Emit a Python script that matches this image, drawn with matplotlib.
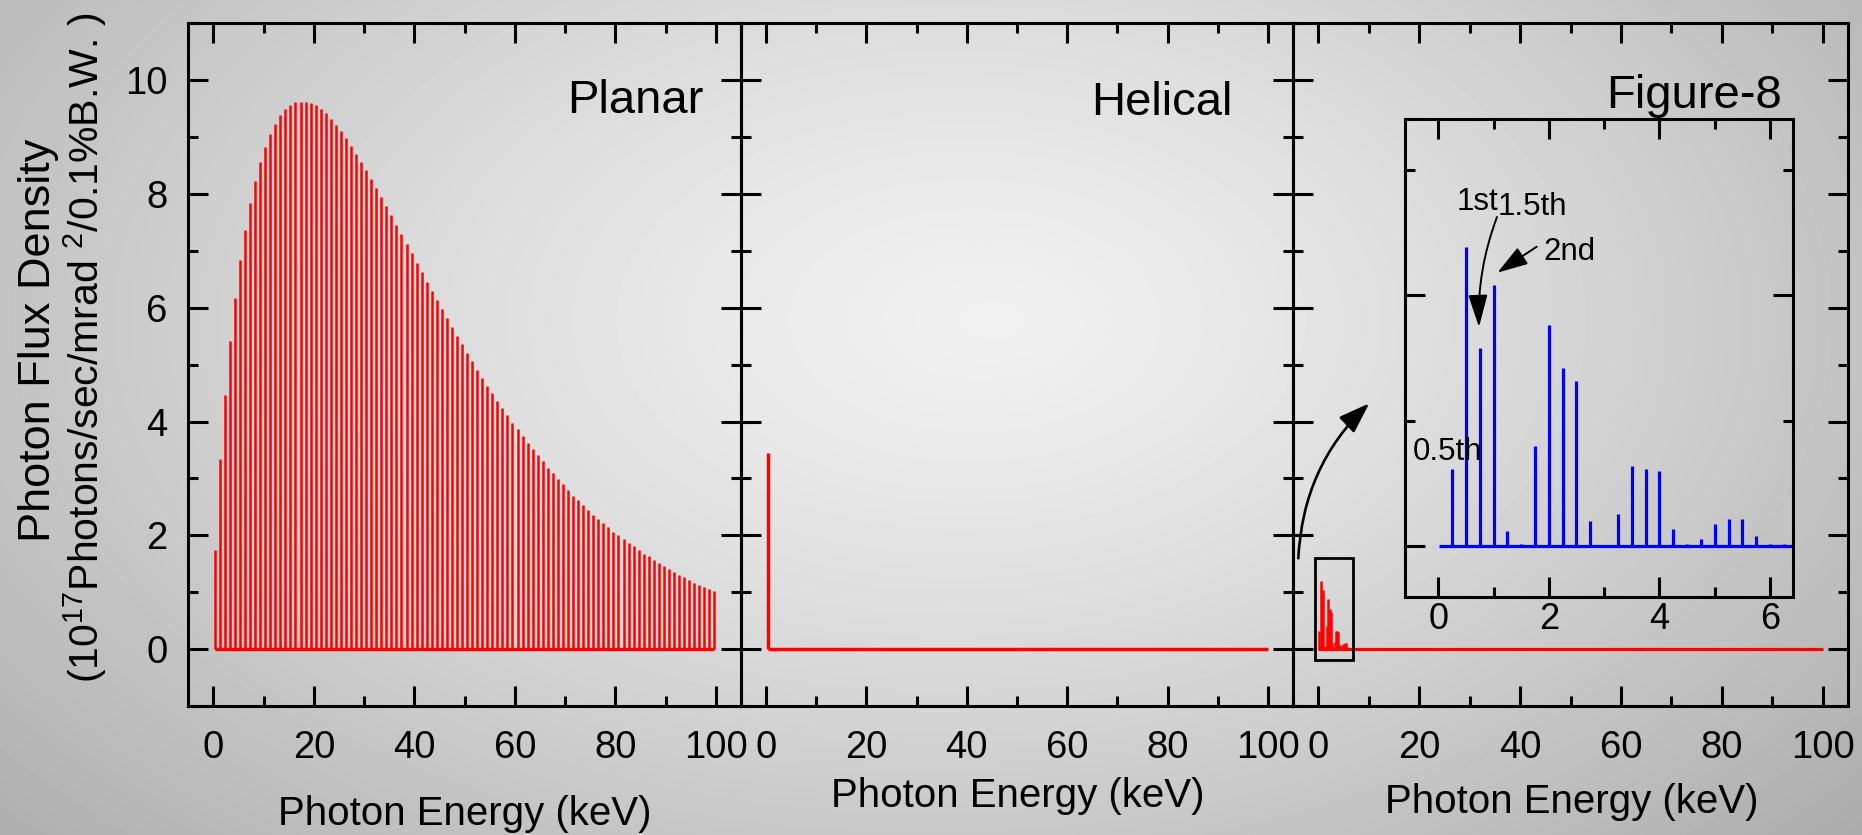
import numpy as np
import matplotlib
matplotlib.use('Agg')
import matplotlib.pyplot as plt
from matplotlib.patches import Rectangle, FancyArrowPatch
from matplotlib.ticker import MultipleLocator

plt.rcParams['font.family'] = ['Liberation Sans', 'DejaVu Sans']
plt.rcParams['mathtext.fontset'] = 'custom'
plt.rcParams['mathtext.rm'] = 'Liberation Sans'
plt.rcParams['mathtext.it'] = 'Liberation Sans:italic'

# ---------------- data ----------------
panel_titles = ['Planar', 'Helical', 'Figure-8']
x_label = 'Photon Energy (keV)'
y_label_1 = 'Photon Flux Density'
y_label_2 = '(10$^{17}$Photons/sec/mrad $^{2}$/0.1%B.W. )'
x_ticks = [0, 20, 40, 60, 80, 100]
y_ticks = [0, 2, 4, 6, 8, 10]
inset_x_ticks = [0, 2, 4, 6]

spectrum_end = 100.0  # keV, end of computed spectra

planar_energy = np.linspace(0.26, 99.7, 100)
planar_flux = [
    1.74, 3.34, 4.47, 5.41, 6.17, 6.84, 7.37, 7.84, 8.23, 8.57,
    8.83, 9.05, 9.23, 9.39, 9.50, 9.57, 9.61, 9.62, 9.62, 9.60,
    9.56, 9.49, 9.42, 9.32, 9.22, 9.11, 8.98, 8.84, 8.71, 8.57,
    8.43, 8.27, 8.11, 7.95, 7.79, 7.63, 7.46, 7.29, 7.12, 6.96,
    6.79, 6.63, 6.46, 6.30, 6.14, 5.98, 5.82, 5.66, 5.51, 5.36,
    5.21, 5.06, 4.91, 4.77, 4.62, 4.50, 4.36, 4.24, 4.11, 3.97,
    3.87, 3.75, 3.63, 3.52, 3.41, 3.30, 3.19, 3.09, 2.99, 2.90,
    2.80, 2.70, 2.62, 2.53, 2.45, 2.36, 2.29, 2.21, 2.15, 2.06,
    2.00, 1.93, 1.87, 1.81, 1.74, 1.68, 1.63, 1.57, 1.51, 1.46,
    1.41, 1.36, 1.31, 1.26, 1.22, 1.17, 1.13, 1.09, 1.06, 1.02,
]

helical_energy = [0.3]
helical_flux = [3.44]

fig8_energy = [0.25, 0.50, 0.75, 1.00, 1.25, 1.50, 1.75, 2.00, 2.25, 2.50,
               2.75, 3.00, 3.25, 3.50, 3.75, 4.00, 4.25, 4.50, 4.75, 5.00,
               5.25, 5.50, 5.75, 6.00, 6.25]
fig8_flux = [0.31, 1.19, 0.79, 1.04, 0.06, 0.01, 0.40, 0.88, 0.71, 0.66,
             0.10, 0.00, 0.13, 0.32, 0.31, 0.30, 0.07, 0.01, 0.03, 0.09,
             0.11, 0.11, 0.04, 0.01, 0.01]

inset_labels = ['0.5th', '1st', '1.5th', '2nd']

# ---------------- figure ----------------
W, H, DPI = 1862, 835, 100
fig = plt.figure(figsize=(W / DPI, H / DPI), dpi=DPI)


def fx(x):
    return x / W


def fy(y):
    return 1 - y / H


# background radial gradient
bg = fig.add_axes([0, 0, 1, 1], zorder=0)
yy, xx = np.mgrid[0:H, 0:W]
r = np.sqrt(((xx - 1000) / 1120.0) ** 2 + ((yy - 320) / 680.0) ** 2)
v = 0.965 - 0.23 * r ** 1.3 - 0.04 * (xx / W)
bg.imshow(v, cmap='gray', vmin=0, vmax=1, extent=[0, W, H, 0],
          aspect='auto', interpolation='bilinear')
bg.set_axis_off()

lefts = [188.3, 741.0, 1293.0]
widths = [552.7, 552.0, 555.0]
top_px, bot_px = 23.3, 706.0

axes = []
for i in range(3):
    ax = fig.add_axes([fx(lefts[i]), fy(bot_px), widths[i] / W,
                       (bot_px - top_px) / H], zorder=1)
    ax.set_facecolor('none')
    ax.set_xlim(-5, 105)
    ax.set_ylim(-1, 11)
    ax.set_xticks(x_ticks)
    ax.set_yticks(y_ticks)
    ax.xaxis.set_minor_locator(MultipleLocator(10))
    ax.yaxis.set_minor_locator(MultipleLocator(1))
    ax.tick_params(which='both', direction='in', top=True, right=True,
                   width=2.2, colors='black')
    ax.tick_params(which='major', length=14.5)
    ax.tick_params(which='minor', length=7.2)
    ax.tick_params(axis='x', labelsize=27.5, pad=17)
    ax.tick_params(axis='y', labelsize=27.5, pad=15)
    if i > 0:
        ax.tick_params(axis='y', labelleft=False)
    for s in ax.spines.values():
        s.set_linewidth(2.2)
    axes.append(ax)

ax1, ax2, ax3 = axes

# Planar
ax1.vlines(planar_energy, 0, planar_flux, color='#ff0000', lw=1.8)
ax1.plot([planar_energy[0], planar_energy[-1]], [0, 0], color='#ff0000', lw=2.4,
         solid_capstyle='butt')

# Helical
ax2.vlines(helical_energy, 0, helical_flux, color='#ff0000', lw=2.5)
ax2.plot([helical_energy[0], spectrum_end], [0, 0], color='#ff0000', lw=2.5,
         solid_capstyle='butt')

# Figure-8
ax3.vlines(fig8_energy, 0, fig8_flux, color='#ff0000', lw=1.8)
ax3.plot([0.0, spectrum_end], [0, 0], color='#ff0000', lw=2.3,
         solid_capstyle='butt')
ax3.add_patch(Rectangle((-0.7, -0.2), 7.5, 1.81, fill=False, ec='black',
                        lw=2.0, zorder=3))

# titles
title_pos = [(703.3, 113.3), (1232.6, 115.0), (1781.7, 108.0)]
for ax, t, (px, py) in zip(axes, panel_titles, title_pos):
    fig.text(fx(px), fy(py), t, ha='right', va='baseline', fontsize=34,
             zorder=5)

# x labels
xlab_pos = [(465.0, 825.0), (1017.8, 807.0), (1571.9, 813.0)]
for px, py in xlab_pos:
    fig.text(fx(px), fy(py), x_label, ha='center', va='baseline', fontsize=29)

# y labels
fig.text(fx(39), fy(340), y_label_1, rotation=90, ha='center', va='center',
         fontsize=32.5)
fig.text(fx(85), fy(348), y_label_2, rotation=90, ha='center', va='center',
         fontsize=29.5)

# inset
axi = fig.add_axes([fx(1405), fy(596.7), 388.3 / W, (596.7 - 119.3) / H],
                   zorder=2)
axi.set_facecolor('none')
axi.set_xlim(-0.6, 6.42)
axi.set_ylim(-0.2, 1.7)
axi.set_xticks(inset_x_ticks)
axi.xaxis.set_minor_locator(MultipleLocator(1))
axi.yaxis.set_major_locator(MultipleLocator(1))
axi.yaxis.set_minor_locator(MultipleLocator(0.5))
axi.tick_params(which='both', direction='in', top=True, right=True,
                width=2.2, labelleft=False)
axi.tick_params(which='major', length=14.5)
axi.tick_params(which='minor', length=7.2)
axi.tick_params(axis='x', labelsize=26, pad=4)
for s in axi.spines.values():
    s.set_linewidth(2.2)
axi.vlines(fig8_energy, 0, fig8_flux, color='#0000ff', lw=2.3)
axi.plot([0.02, spectrum_end], [0, 0], color='#0000ff', lw=2.3,
         solid_capstyle='butt')

# inset labels
lab_pos = [(1413, 460), (1457, 210), (1498, 215), (1543, 260)]
for t, (px, py) in zip(inset_labels, lab_pos):
    fig.text(fx(px), fy(py), t, ha='left', va='baseline', fontsize=22.5,
             zorder=6)


def arrow(p0, p1, rad, hl, hw, lw):
    a = FancyArrowPatch((fx(p0[0]), fy(p0[1])), (fx(p1[0]), fy(p1[1])),
                        transform=fig.transFigure,
                        connectionstyle='arc3,rad=%g' % rad,
                        arrowstyle='-|>,head_length=%g,head_width=%g' % (hl, hw),
                        mutation_scale=20, lw=lw, color='black',
                        shrinkA=0, shrinkB=0, zorder=6)
    fig.patches.append(a)


arrow((1497, 217), (1479, 327), 0.1, 1.0, 0.3, 1.4)
arrow((1536.7, 246.7), (1497.3, 272.7), 0.0, 0.95, 0.3, 1.4)
arrow((1298.3, 558.3), (1369.3, 403.3), -0.2, 0.95, 0.33, 1.9)

fig.savefig('out.png', dpi=DPI)
